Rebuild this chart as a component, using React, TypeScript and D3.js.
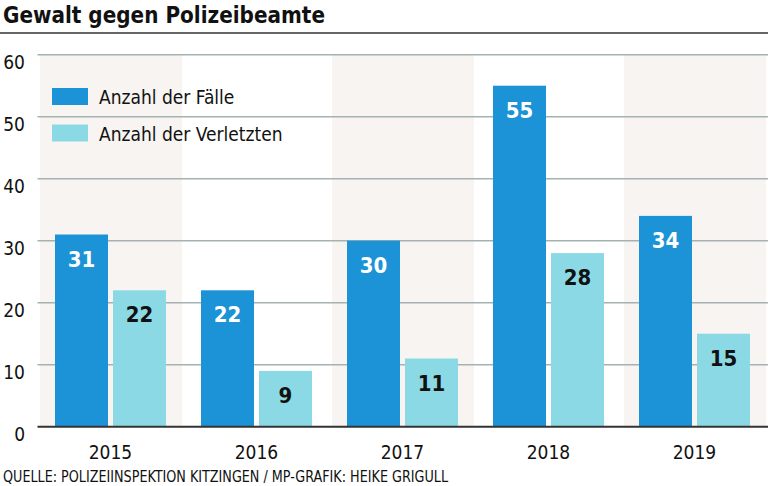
import React from "react";
import * as d3 from "d3";

const years = ["2015", "2016", "2017", "2018", "2019"];
const faelle = [31, 22, 30, 55, 34];
const verletzte = [22, 9, 11, 28, 15];
const yTicks = [0, 10, 20, 30, 40, 50, 60];
const seriesNames = ["Anzahl der Fälle", "Anzahl der Verletzten"];
const title = "Gewalt gegen Polizeibeamte";
const source = "QUELLE: POLIZEIINSPEKTION KITZINGEN / MP-GRAFIK: HEIKE GRIGULL";

const W = 768;
const H = 486;
const FONT = "'Liberation Sans Narrow', 'DejaVu Sans Condensed', 'Open Sans', sans-serif";
const DARK = "#1c92d7";
const LIGHT = "#8cd9e6";
const BAND = "#f8f4f1";

export default function App() {
  const x = d3.scaleBand<string>().domain(years).range([37.5, 767.5]).paddingInner(0).paddingOuter(0);
  const y = d3.scaleLinear().domain([0, 60]).range([426.7, 54.7]);
  const step = x.step();
  const barW = 53;
  const gap = 5;
  const series = [faelle, verletzte];
  const colors = [DARK, LIGHT];
  const textColors = ["#ffffff", "#111111"];

  return (
    <svg width={W} height={H} style={{ position: "absolute", left: 0, top: 0, background: "#fff" }}>
      <text x={3} y={23} fontFamily={FONT} fontWeight="bold" fontSize={23} fill="#111" textLength={322} lengthAdjust="spacingAndGlyphs">{title}</text>
      <line x1={0} x2={W} y1={33} y2={33} stroke="#333" strokeWidth={1.5} />

      {years.map((yr, i) => i % 2 === 0 ? (
        <rect key={"band" + yr} x={x(yr)! + 2.5} width={step - 4} y={y(60)} height={y(0) - y(60)} fill={BAND} />
      ) : null)}

      {yTicks.filter(t => t > 0).map(t => (
        <line key={"g" + t} x1={37.5} x2={W} y1={y(t)} y2={y(t)} stroke="#a3b2b2" strokeWidth={1.5} />
      ))}
      {yTicks.map(t => (
        <text key={"yl" + t} x={25} y={y(t) + 14} textAnchor="end" fontFamily={FONT} fontSize={19} fill="#111">{t}</text>
      ))}

      {years.map((yr, i) => {
        const cx = x(yr)! + step / 2;
        return (
          <g key={"bars" + yr}>
            {series.map((s, k) => {
              const bx = k === 0 ? cx - gap / 2 - barW : cx + gap / 2;
              return (
                <g key={k}>
                  <rect x={bx} width={barW} y={y(s[i])} height={y(0) - y(s[i])} fill={colors[k]} />
                  <text x={bx + barW / 2} y={y(s[i]) + 32} textAnchor="middle" fontFamily={FONT} fontWeight="bold" fontSize={22} fill={textColors[k]}>{s[i]}</text>
                </g>
              );
            })}
            <text x={cx} y={459} textAnchor="middle" fontFamily={FONT} fontSize={19} fill="#111">{yr}</text>
          </g>
        );
      })}

      <line x1={37.5} x2={W} y1={y(0)} y2={y(0)} stroke="#333" strokeWidth={2} />

      {seriesNames.map((n, k) => (
        <g key={"leg" + k}>
          <rect x={52} y={88 + k * 36.5} width={36} height={17} fill={colors[k]} />
          <text x={99} y={104 + k * 37} fontFamily={FONT} fontSize={19} fill="#111">{n}</text>
        </g>
      ))}

      <text x={3} y={482} fontFamily={FONT} fontSize={15} fill="#111" textLength={445} lengthAdjust="spacingAndGlyphs">{source}</text>
    </svg>
  );
}
